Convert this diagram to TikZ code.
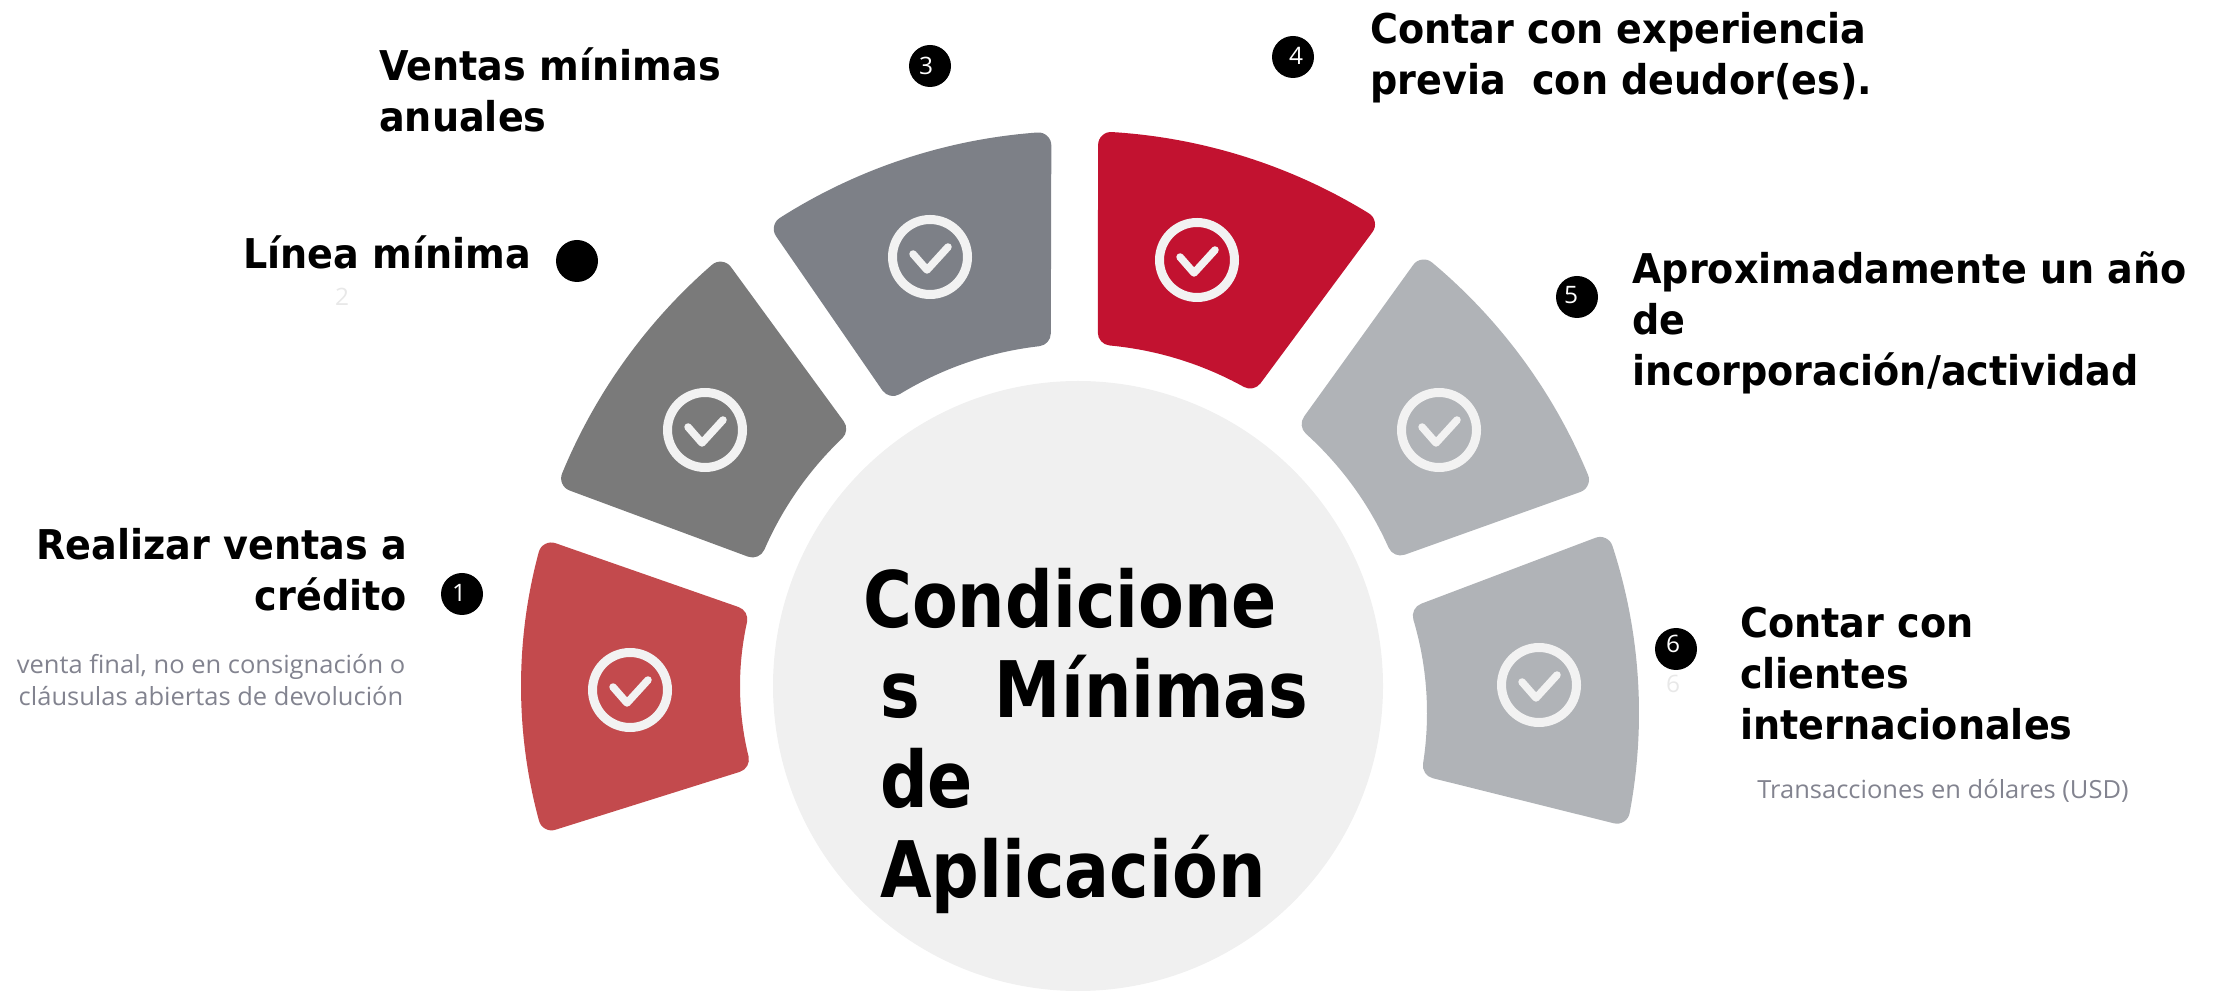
\documentclass[tikz,border=0pt]{standalone}
\usepackage{fontspec}
\setmainfont{Open Sans}
\newfontfamily\titlef[FakeStretch=0.855]{DejaVu Sans}
\newfontfamily\headf[FakeStretch=0.93]{DejaVu Sans}
\newfontfamily\thinf[FakeStretch=1.02]{Open Sans}
\definecolor{segA}{HTML}{C34A4D}
\definecolor{segB}{HTML}{7A7A7A}
\definecolor{segC}{HTML}{7D8087}
\definecolor{segD}{HTML}{C21230}
\definecolor{segE}{HTML}{B0B3B7}
\definecolor{discgrey}{HTML}{F0F0F0}
\definecolor{ringgrey}{HTML}{F2F2F2}
\definecolor{notegrey}{HTML}{82838F}
\definecolor{palegrey}{HTML}{E8E8E8}
\newcommand\segm[8][1078pt,305pt]{%
  \filldraw[#2,line width=26pt,line join=round,shift={(#1)}]
    (#3:#7pt) arc[start angle=#3,end angle=#5,radius=#7pt]
    -- (#6:#8pt) arc[start angle=#6,end angle=#4,radius=#8pt] -- cycle;}
\newcommand\tickmark[2]{%
  \begin{scope}[shift={(#1pt,#2pt)}]
    \draw[ringgrey,line width=9pt] (0,0) circle[radius=37.5pt];
    \draw[ringgrey,line width=7.5pt,line cap=round,line join=round]
      (-17pt,3pt) -- (-3pt,-13pt) -- (18pt,10pt);
  \end{scope}}
\tikzset{
  x=1pt,y=1pt,
  head/.style={font=\headf\bfseries\fontsize{41}{51}\selectfont,text=black,inner sep=0pt,anchor=base west,align=left},
  note/.style={font=\thinf\fontsize{25}{32}\selectfont,text=notegrey,inner sep=0pt,anchor=base},
  dot/.style={circle,fill=black,minimum size=42pt,inner sep=0pt},
  digit/.style={font=\thinf\fontsize{24}{24}\selectfont,text=white,inner sep=0pt},
  ghost/.style={font=\thinf\fontsize{24}{24}\selectfont,text=palegrey,inner sep=0pt},
}
\begin{document}
\begin{tikzpicture}
\useasboundingbox (0,0) rectangle (2216,991);
\fill[discgrey] (1078,305) circle[radius=305pt];
\segm[1035pt,305pt]{segA}{164.9}{167.5}{195.2}{193.8}{501}{308}
\segm{segB}{131}{133.6}{157.6}{156.5}{545}{355}
\segm{segC}{94.2}{96.5}{122.5}{121.4}{542}{355}
\segm{segD}{86.5}{84.7}{58.4}{61}{542}{355}
\segm{segE}{50.1}{47.9}{22.5}{24}{539}{353}
\segm[1100pt,278pt]{segE}{18.06}{16.6}{-10.7}{-8.9}{526}{340}
\tickmark{630}{301}
\tickmark{705}{561}
\tickmark{930}{734}
\tickmark{1197}{731}
\tickmark{1439}{561}
\tickmark{1539}{306}
\node[dot] (n1) at (462,397) {};
\node[dot] (n2) at (577,730) {};
\node[dot] (n3) at (930,925) {};
\node[dot] (n4) at (1293,934) {};
\node[dot] (n5) at (1577,694) {};
\node[dot] (n6) at (1676,342) {};
\node[digit] (d1) at (459,398) {1};
\node[digit] (d3) at (926,925) {3};
\node[digit] (d4) at (1296,935) {4};
\node[digit] (d5) at (1571,696) {5};
\node[digit] (d6) at (1673,347) {6};
\node[ghost] (g2) at (342,694) {2};
\node[ghost] (g6) at (1673,307) {6};
\node[head,anchor=base east,align=right] (t1) at (407,380) {Realizar ventas a\\crédito};
\node[note,align=center] (s1) at (211,285) {venta final, no en consignación o\\cláusulas abiertas de devolución};
\node[head] (t2) at (243,722) {Línea mínima};
\node[head] (t3) at (379,859) {Ventas mínimas\\anuales};
\node[head] (t4) at (1370,896) {Contar con experiencia\\previa\ \ con deudor(es).};
\node[head] (t5) at (1632,605) {Aproximadamente un año\\de\\incorporación/actividad};
\node[head] (t6) at (1740,251) {Contar con\\clientes\\internacionales};
\node[note] (s6) at (1943,193) {Transacciones en dólares (USD)};
\node[font=\titlef\bfseries\fontsize{78}{90}\selectfont,text=black,inner sep=0pt,anchor=base west,align=left] (title) at (880,94)
  {\hspace*{-17pt}Condicione\\s\hspace{75pt}Mínimas\\de\\Aplicación};
\end{tikzpicture}
\end{document}
